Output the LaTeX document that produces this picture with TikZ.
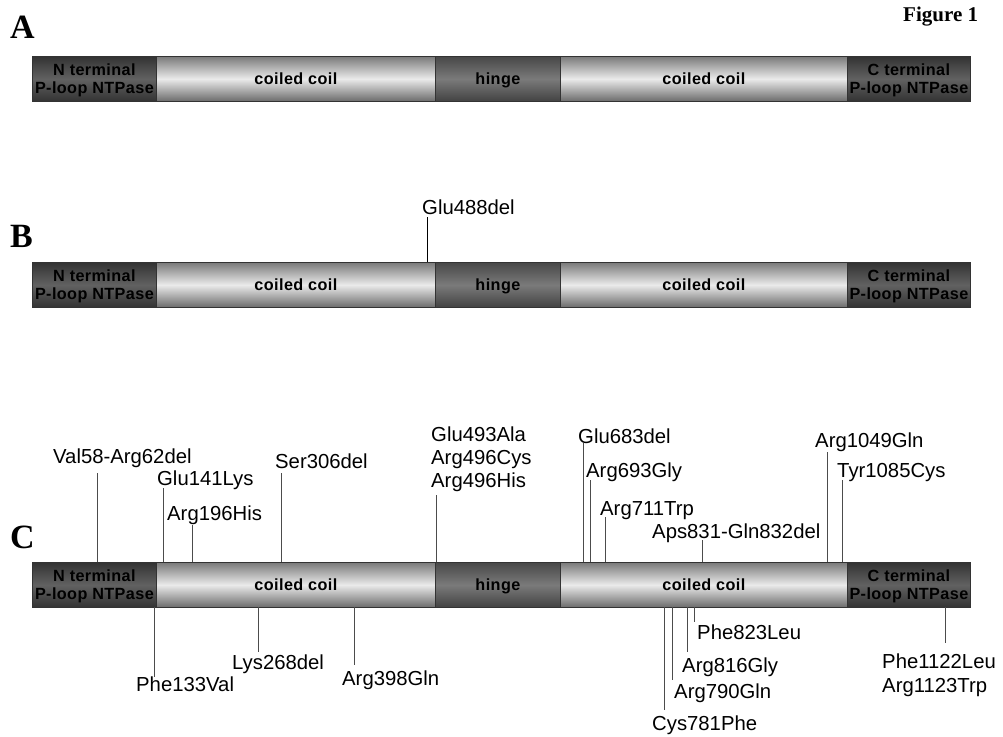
\documentclass[tikz,border=0pt]{standalone}
\usepackage{fontspec}
\setmainfont{Liberation Sans}
\newfontfamily\barfont{Liberation Sans}[LetterSpace=2.5]
\newfontfamily\labfont{Liberation Sans}
\newfontfamily\titlefont{Liberation Serif}
\newcommand\protbar[2]{%
  \node[term, minimum width=124] (#1n) at (32,#2) {N terminal\\P-loop NTPase};
  \node[coil, minimum width=279] (#1c1) at (156,#2) {coiled coil};
  \node[hingeseg, minimum width=125] (#1h) at (435,#2) {hinge};
  \node[coil, minimum width=287] (#1c2) at (560,#2) {coiled coil};
  \node[term, minimum width=123] (#1t) at (847,#2) {C terminal\\P-loop NTPase};
}
\begin{document}
\begin{tikzpicture}[x=1pt,y=-1pt,
  seg/.style={draw=black!80, line width=0.8pt, inner sep=0pt, minimum height=45,
    anchor=north west, align=center, text=black, text depth=0pt,
    font=\barfont\bfseries\fontsize{16.2}{18}\selectfont},
  term/.style={seg, top color=black!80, bottom color=black!80, middle color=black!62},
  coil/.style={seg, top color=black!52, bottom color=black!58, middle color=black!8},
  hingeseg/.style={seg, top color=black!72, bottom color=black!74, middle color=black!52},
  lab/.style={anchor=base west, inner sep=0pt, align=left,
    font=\labfont\fontsize{20.3}{23.3}\selectfont},
  mut/.style={draw=black!70, line width=0.9pt},
  mutb/.style={draw=black, line width=0.9pt},
  panel/.style={anchor=base west, inner sep=0pt, font=\titlefont\bfseries\fontsize{34}{34}\selectfont}
]
\fill[white] (0,0) rectangle (1003,736);
\useasboundingbox (0,0) rectangle (1003,736);

% titles
\node[anchor=base west, inner sep=0pt, font=\titlefont\bfseries\fontsize{21}{21}\selectfont] (fig) at (903,21) {Figure 1};
\node[panel] (pA) at (10,38) {A};
\node[panel] (pB) at (10,247) {B};
\node[panel] (pC) at (10,548) {C};

% bars
\protbar{a}{56}
\protbar{b}{262}
\protbar{c}{562}

% panel B mutation
\coordinate (g488) at (427,262);
\coordinate (g488e) at (427,217);
\draw[mutb] (g488) -- (g488e);
\node[lab] (lg488) at (422,214) {Glu488del};

% panel C mutations above
\foreach \n/\x/\ye in {v58/97/473, e141/163/488, r196/192/525, s306/281/473,
  e493/436/495, e683/583/443, r693/590/480, r711/605/517, a831/702/540,
  r1049/827/452, y1085/842/480}{
  \coordinate (\n) at (\x,562);
  \coordinate (\n e) at (\x,\ye);
  \draw[mut] (\n) -- (\n e);
}
% panel C mutations below
\foreach \n/\x/\ye in {f133/154/677, k268/258/652, r398/354/665,
  c781/664/710, r790/672/680, r816/687/652, f823/694/622, f1122/945/643}{
  \coordinate (\n) at (\x,607);
  \coordinate (\n e) at (\x,\ye);
  \draw[mut] (\n) -- (\n e);
}

% labels above
\node[lab] (lv58) at (53,463) {Val58-Arg62del};
\node[lab] (le141) at (157,485) {Glu141Lys};
\node[lab] (lr196) at (167,520) {Arg196His};
\node[lab] (ls306) at (275,468) {Ser306del};
\node[lab] (le493a) at (431,441) {Glu493Ala};
\node[lab] (le493b) at (431,464) {Arg496Cys};
\node[lab] (le493c) at (431,487) {Arg496His};
\node[lab] (le683) at (578,443) {Glu683del};
\node[lab] (lr693) at (586,477) {Arg693Gly};
\node[lab] (lr711) at (600,515) {Arg711Trp};
\node[lab] (la831) at (652,538) {Aps831-Gln832del};
\node[lab] (lr1049) at (815,447) {Arg1049Gln};
\node[lab] (ly1085) at (837,477) {Tyr1085Cys};

% labels below
\node[lab] (lf133) at (136,691) {Phe133Val};
\node[lab] (lk268) at (232,669) {Lys268del};
\node[lab] (lr398) at (342,685) {Arg398Gln};
\node[lab] (lf823) at (697,639) {Phe823Leu};
\node[lab] (lr816) at (682,672) {Arg816Gly};
\node[lab] (lr790) at (674,698) {Arg790Gln};
\node[lab] (lc781) at (652,730) {Cys781Phe};
\node[lab] (lf1122a) at (882,668) {Phe1122Leu};
\node[lab] (lf1122b) at (882,692) {Arg1123Trp};
\end{tikzpicture}
\end{document}
